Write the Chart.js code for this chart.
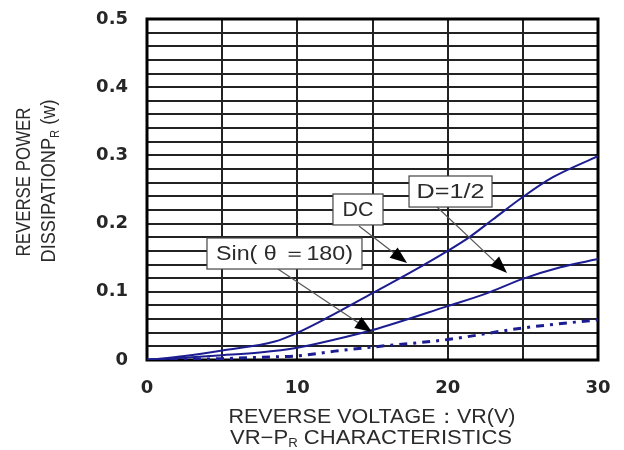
<!DOCTYPE html>
<html>
<head>
<meta charset="utf-8">
<script src="https://cdn.jsdelivr.net/npm/chart.js@4/dist/chart.umd.min.js"></script>
<style>
  html, body { margin: 0; padding: 0; background: #fff; }
</style>
</head>
<body>
<canvas id="vrChart" width="624" height="450"></canvas>
<script>
// tick labels
const xTickLabels = [0, 10, 20, 30];
const yTickLabels = [0, 0.1, 0.2, 0.3, 0.4, 0.5];

// DC
const dcVolt = [0, 2.5, 5, 8.5, 10, 12, 15, 17.5, 20, 21.5, 23, 25, 27, 30];
const dcPower = [0, 0.006, 0.014, 0.027, 0.04, 0.062, 0.098, 0.128, 0.16, 0.181, 0.206, 0.239, 0.268, 0.299];

// D=1/2
const halfVolt = [0, 5, 7.5, 10, 12.5, 15, 20, 22.5, 25, 27.5, 30];
const halfPower = [0, 0.007, 0.011, 0.018, 0.03, 0.044, 0.079, 0.097, 0.119, 0.136, 0.148];

// Sin(θ=180)
const sinVolt = [0, 5, 7.5, 10, 12.5, 15, 20, 25, 30];
const sinPower = [0, 0.002, 0.004, 0.006, 0.013, 0.019, 0.030, 0.047, 0.059];

const NAVY = "#1d1d92";

// labels with arrows (in axis units)
const notes = [
  { text: "DC", tw: 31, box: [12.37, 15.70, 0.2434, 0.198], from: [14.10, 0.1965], to: [17.30, 0.1422] },
  { text: "D=1/2", tw: 68, box: [17.43, 22.95, 0.2698, 0.2243], from: [19.29, 0.2243], to: [23.95, 0.1276] },
  { text: "Sin( θ ＝180)", tw: 137, box: [3.99, 14.30, 0.1789, 0.1334], from: [8.71, 0.1334], to: [14.97, 0.0411] }
];

function pts(xs, ys) {
  return xs.map((x, i) => ({ x: x, y: ys[i] }));
}

// text squeezed / stretched to a given width, with optional subscript part
function drawFit(ctx, pre, sub, post, width, size, weight) {
  const fam = "'Liberation Sans', Arial, sans-serif";
  const big = weight + " " + size + "px " + fam;
  const small = weight + " " + Math.round(size * 0.62) + "px " + fam;
  ctx.font = big;
  const w1 = ctx.measureText(pre).width;
  const w3 = ctx.measureText(post).width;
  ctx.font = small;
  const w2 = sub ? ctx.measureText(sub).width : 0;
  const total = w1 + w2 + w3;
  ctx.scale(width / total, 1);
  ctx.textBaseline = "middle";
  ctx.textAlign = "left";
  let x = -total / 2;
  ctx.font = big;
  ctx.fillText(pre, x, 0);
  x += w1;
  if (sub) {
    ctx.font = small;
    ctx.fillText(sub, x, size * 0.3);
    x += w2;
  }
  ctx.font = big;
  ctx.fillText(post, x, 0);
}

function noPad(s) {
  s.paddingTop = 0;
  s.paddingBottom = 0;
  s.paddingLeft = 0;
  s.paddingRight = 0;
}

const frame = {
  id: "frame",
  beforeDatasetsDraw(chart) {
    const { ctx, chartArea: a } = chart;
    ctx.save();
    ctx.strokeStyle = "#000";
    ctx.lineWidth = 3;
    ctx.strokeRect(a.left, a.top, a.right - a.left, a.bottom - a.top);
    ctx.restore();
  },
  afterDatasetsDraw(chart) {
    const { ctx } = chart;
    const xs = chart.scales.x, ys = chart.scales.y;

    // arrows
    notes.forEach(n => {
      const x0 = xs.getPixelForValue(n.from[0]), y0 = ys.getPixelForValue(n.from[1]);
      const x1 = xs.getPixelForValue(n.to[0]), y1 = ys.getPixelForValue(n.to[1]);
      const ang = Math.atan2(y1 - y0, x1 - x0);
      const len = 17, half = 6.5;
      const bx = x1 - len * Math.cos(ang), by = y1 - len * Math.sin(ang);
      ctx.save();
      ctx.strokeStyle = "#555";
      ctx.lineWidth = 1.2;
      ctx.beginPath();
      ctx.moveTo(x0, y0);
      ctx.lineTo(bx, by);
      ctx.stroke();
      ctx.fillStyle = "#000";
      ctx.beginPath();
      ctx.moveTo(x1, y1);
      ctx.lineTo(bx + half * Math.sin(ang), by - half * Math.cos(ang));
      ctx.lineTo(bx - half * Math.sin(ang), by + half * Math.cos(ang));
      ctx.closePath();
      ctx.fill();
      ctx.restore();
    });

    // boxes
    notes.forEach(n => {
      const l = xs.getPixelForValue(n.box[0]), r = xs.getPixelForValue(n.box[1]);
      const t = ys.getPixelForValue(n.box[2]), b = ys.getPixelForValue(n.box[3]);
      ctx.save();
      ctx.fillStyle = "#fff";
      ctx.fillRect(l, t, r - l, b - t);
      ctx.strokeStyle = "#444";
      ctx.lineWidth = 1.2;
      ctx.strokeRect(l, t, r - l, b - t);
      ctx.translate((l + r) / 2, (t + b) / 2 + 1);
      ctx.fillStyle = "#2b2b2b";
      drawFit(ctx, n.text, "", "", n.tw, 20, "normal");
      ctx.restore();
    });
  },
  afterDraw(chart) {
    const { ctx } = chart;
    ctx.save();
    ctx.fillStyle = "#2b2b2b";
    // y title
    ctx.save();
    ctx.translate(24, 182);
    ctx.rotate(-Math.PI / 2);
    drawFit(ctx, "REVERSE POWER", "", "", 149, 21, "normal");
    ctx.restore();
    ctx.save();
    ctx.translate(49, 181);
    ctx.rotate(-Math.PI / 2);
    drawFit(ctx, "DISSIPATIONP", "R", " (w)", 163, 21, "normal");
    ctx.restore();
    // x title
    ctx.save();
    ctx.translate(372, 417);
    drawFit(ctx, "REVERSE VOLTAGE：VR(V)", "", "", 287, 20, "normal");
    ctx.restore();
    ctx.save();
    ctx.translate(371, 438);
    drawFit(ctx, "VR−P", "R", " CHARACTERISTICS", 282, 20, "normal");
    ctx.restore();
    ctx.restore();
  }
};

const tickFont = { family: "'DejaVu Sans', sans-serif", size: 18, weight: "bold" };

new Chart(document.getElementById("vrChart").getContext("2d"), {
  type: "scatter",
  data: {
    datasets: [
      {
        label: "DC",
        data: pts(dcVolt, dcPower),
        showLine: true,
        borderColor: NAVY,
        borderWidth: 2,
        pointRadius: 0,
        cubicInterpolationMode: "monotone"
      },
      {
        label: "D=1/2",
        data: pts(halfVolt, halfPower),
        showLine: true,
        borderColor: NAVY,
        borderWidth: 2,
        pointRadius: 0,
        cubicInterpolationMode: "monotone"
      },
      {
        label: "Sin(θ=180)",
        data: pts(sinVolt, sinPower),
        showLine: true,
        borderColor: NAVY,
        borderWidth: 3,
        borderDash: [8, 6, 3, 6],
        pointRadius: 0,
        cubicInterpolationMode: "monotone"
      }
    ]
  },
  options: {
    responsive: false,
    animation: false,
    layout: { padding: { left: 0, top: 19, right: 26, bottom: 0 } },
    plugins: {
      legend: { display: false },
      tooltip: { enabled: false }
    },
    scales: {
      x: {
        type: "linear",
        min: 0,
        max: 30,
        afterFit: s => { s.height = 90; noPad(s); },
        border: { display: false },
        grid: { color: "#222", lineWidth: 2, drawTicks: false },
        ticks: {
          stepSize: 5,
          autoSkip: false,
          maxRotation: 0,
          padding: 18,
          color: "#262626",
          font: tickFont,
          callback: v => (xTickLabels.includes(v) ? String(v) : "")
        }
      },
      y: {
        type: "linear",
        min: 0,
        max: 0.5,
        afterFit: s => { s.width = 147; noPad(s); },
        border: { display: false },
        grid: { color: "#222", lineWidth: 2, drawTicks: false },
        ticks: {
          stepSize: 0.02,
          autoSkip: false,
          padding: 19,
          color: "#262626",
          font: tickFont,
          callback: v => {
            const r = Math.round(v * 100) / 100;
            const hit = yTickLabels.find(t => Math.abs(t - r) < 1e-6);
            if (hit === undefined) return "";
            return hit === 0 ? "0" : hit.toFixed(1);
          }
        }
      }
    }
  },
  plugins: [frame]
});
</script>
</body>
</html>
